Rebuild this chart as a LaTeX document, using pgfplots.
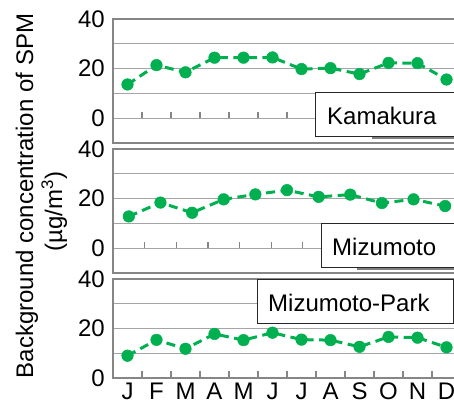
\documentclass[border=0pt]{standalone}
\usepackage{pgfplots}
\pgfplotsset{compat=1.18}
\usepackage{fontspec}
\setmainfont{Liberation Sans}
\definecolor{ptgreen}{RGB}{0,176,80}
\definecolor{axgray}{RGB}{134,134,134}
\definecolor{grgray}{RGB}{165,165,165}
\newcommand{\bigf}{\fontsize{24bp}{28bp}\selectfont}

\tikzset{tk/.style={axgray, line width=1.2bp}}
\pgfplotsset{
  panel/.style={
    scale only axis, width=348bp,
    /pgf/number format/assume math mode=true,
    axis line style={axgray, line width=1.2bp},
    ytick={0,20,40}, minor ytick={10,30},
    ymajorgrids, yminorgrids,
    major grid style={grgray, line width=1.2bp},
    minor grid style={grgray, line width=1.2bp},
    major tick length=0pt, minor tick length=0pt,
    yticklabel style={font=\bigf, anchor=east, inner sep=0pt, xshift=-8bp},
    xticklabel style={font=\bigf, anchor=north, inner sep=0pt, yshift=-5bp},
  },
  ser/.style={ptgreen, line width=3bp, dash pattern=on 9bp off 5.5bp,
    mark=*, mark size=5.8bp, mark options={solid, fill=ptgreen, draw=ptgreen, line width=0.5bp}},
}

\pgfplotstableread{
x y
0 13.6
1 21.4
2 18.5
3 24.4
4 24.4
5 24.5
6 19.8
7 20.2
8 17.8
9 22.3
10 22.2
11 15.6
}\kamakura

\pgfplotstableread{
x y
0 12.8
1 18.4
2 14.3
3 19.7
4 21.7
5 23.4
6 20.7
7 21.6
8 18.2
9 19.7
10 17.0
}\mizumoto

\pgfplotstableread{
x y
0 9.0
1 15.4
2 11.8
3 17.8
4 15.3
5 18.3
6 15.5
7 15.3
8 12.6
9 16.6
10 16.3
11 12.4
}\mizupark

\begin{document}
\begin{tikzpicture}
% Panel 1: Kamakura
\begin{axis}[panel, at={(113bp,260bp)}, anchor=south west, height=124bp,
  xmin=-0.5, xmax=11.5, ymin=-10, ymax=40, xtick=\empty]
  \pgfplotsinvokeforeach{0.5,1.5,2.5,3.5,4.5,5.5,6.5,7.5,8.5,9.5,10.5}{
    \draw[tk] (axis cs:#1,0) -- ++(0pt,6bp);}
  \addplot[ser] table[x=x,y=y] {\kamakura};
\end{axis}
% Panel 2: Mizumoto
\begin{axis}[panel, at={(113bp,130bp)}, anchor=south west, height=124bp,
  xmin=-0.5, xmax=10.5, ymin=-10, ymax=40, xtick=\empty]
  \pgfplotsinvokeforeach{0.5,1.5,2.5,3.5,4.5,5.5,6.5,7.5,8.5,9.5}{
    \draw[tk] (axis cs:#1,0) -- ++(0pt,6bp);}
  \addplot[ser] table[x=x,y=y] {\mizumoto};
\end{axis}
% Panel 3: Mizumoto-Park
\begin{axis}[panel, at={(113bp,25bp)}, anchor=south west, height=99bp,
  xmin=-0.5, xmax=11.5, ymin=0, ymax=40,
  xtick={0,1,2,3,4,5,6,7,8,9,10,11},
  xticklabels={J,F,M,A,M,J,J,A,S,O,N,D}]
  \pgfplotsinvokeforeach{0.5,1.5,2.5,3.5,4.5,5.5,6.5,7.5,8.5,9.5,10.5}{
    \draw[tk] (axis cs:#1,0) -- ++(0pt,6.5bp);}
  \addplot[ser] table[x=x,y=y] {\mizupark};
\end{axis}

% station label boxes
\draw[gray, line width=2bp] (372bp,264.6bp) -- (470bp,264.6bp);
\draw[black!85, line width=1bp, fill=white] (315bp,266bp) rectangle (470bp,310bp);
\node[anchor=base west, inner sep=0pt, font=\bigf] at (327bp,278bp) {Kamakura};

\draw[gray, line width=2bp] (357bp,133.6bp) -- (470bp,133.6bp);
\draw[black!85, line width=1bp, fill=white] (321bp,135bp) rectangle (470bp,179bp);
\node[anchor=base west, inner sep=0pt, font=\bigf] at (332bp,147bp) {Mizumoto};

\draw[black!85, line width=1bp, fill=white] (257bp,79bp) rectangle (453bp,123bp);
\node[anchor=base west, inner sep=0pt, font=\bigf] at (268bp,91.3bp) {Mizumoto-Park};

% y label
\node[rotate=90, anchor=base, inner sep=0pt, font=\bigf] at (33bp,207bp) {Background concentration of SPM};
\node[rotate=90, anchor=base, inner sep=0pt, font=\bigf] at (62bp,191.5bp) {(µg/m\textsuperscript{3})};

\pgfresetboundingbox
\useasboundingbox (0,0) rectangle (454bp,403bp);
\end{tikzpicture}
\end{document}
